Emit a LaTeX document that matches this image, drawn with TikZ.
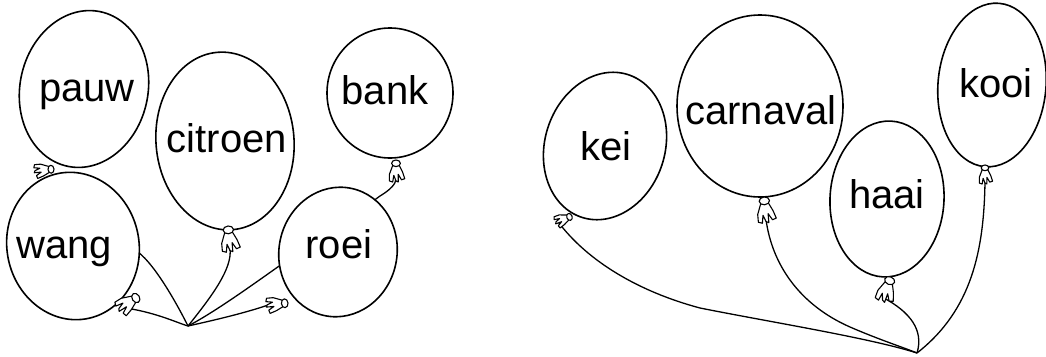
\documentclass[tikz,border=0pt]{standalone}
\usepackage{fontspec}
\setmainfont{Liberation Sans}
\usetikzlibrary{shapes.geometric}
\pgfdeclarelayer{bg}
\pgfsetlayers{bg,main}
\begin{document}
\begin{tikzpicture}[x=1pt,y=-1pt, line cap=round, line join=round,
  balloon/.style={draw, fill=white, ellipse, inner sep=0pt, line width=1.6pt},
  word/.style={font=\fontsize{40}{48}\selectfont, inner sep=0pt, anchor=base},
  strng/.style={draw, line width=1.3pt},
  knot/.pic={
    \draw[fill=white, line width=1.1pt] (-3,5) -- (-6,13) -- (-6,19) -- (-3,20) -- (-2,14) -- (0,19) -- (2,20) -- (2,13) -- (5,18) -- (8,17) -- (6,11) -- (3,5) -- cycle;
    \draw[fill=white, line width=1.1pt] (0,3) ellipse [x radius=4pt, y radius=3pt];
    \coordinate (-end) at (0,17);
  }]
\useasboundingbox (0,0) rectangle (1046,356);

% balloons
\node[balloon, minimum width=128pt, minimum height=158pt, rotate=-12] (bpauw) at (84,89) {};
\node[balloon, minimum width=132pt, minimum height=148pt, rotate=12] (bwang) at (73,246) {};
\node[balloon, minimum width=138pt, minimum height=178pt, rotate=5] (bcit) at (225,141) {};
\node[balloon, minimum width=126pt, minimum height=130pt] (bbank) at (390,93) {};
\node[balloon, minimum width=118pt, minimum height=130pt, rotate=-12] (broei) at (338,252) {};
\node[balloon, minimum width=120pt, minimum height=150pt, rotate=-18] (bkei) at (605,146) {};
\node[balloon, minimum width=166pt, minimum height=182pt] (bcar) at (760,106) {};
\node[balloon, minimum width=114pt, minimum height=156pt, rotate=-3] (bhaai) at (887,199) {};
\node[balloon, minimum width=108pt, minimum height=164pt, rotate=-5] (bkooi) at (992,85) {};

% words
\node[word] (tpauw) at (87,101) {pauw};
\node[word] (twang) at (64,258) {wang};
\node[word] (tcit) at (227,152) {citroen};
\node[word] (tbank) at (385,104) {bank};
\node[word] (troei) at (339,258) {roei};
\node[word] (tkei) at (606,160) {kei};
\node[word] (tcar) at (761,124) {carnaval};
\node[word] (thaai) at (887,208) {haai};
\node[word] (tkooi) at (996,97) {kooi};

% knots
\pic[rotate=-85, scale=1.0] (kpauw) at (54,169) {knot};
\pic[rotate=-58, scale=1.25] (kwang) at (139,296) {knot};
\pic[rotate=5, scale=1.3] (kcit) at (228,226) {knot};
\pic[scale=1.1] (kbank) at (396,160) {knot};
\pic[rotate=-85, scale=1.1] (kroei) at (288,303) {knot};
\pic[rotate=-70, scale=.9] (kkei) at (572,216) {knot};
\pic[rotate=5, scale=1.3] (kcar) at (764,197) {knot};
\pic[rotate=-20, scale=1.3] (khaai) at (891,277) {knot};
\pic[scale=.95] (kkooi) at (985,165) {knot};

% meeting points and hidden string points
\coordinate (meetL) at (188,326);
\coordinate (meetR) at (917,353);
\coordinate (pauwhide) at (70,190);
\coordinate (bankhide) at (320,240);

\begin{pgfonlayer}{bg}
\draw[strng] (pauwhide) -- (135,250) .. controls (152,260) and (175,300) .. (meetL);
\draw[strng] (kwang-end) .. controls (155,312) and (175,322) .. (meetL);
\draw[strng] (kcit-end) .. controls (233,268) and (212,296) .. (meetL);
\draw[strng] (kbank-end) .. controls (396,184) and (390,190) .. (380,196) -- (bankhide) -- (282,264) .. controls (255,283) and (215,312) .. (meetL);
\draw[strng] (kroei-end) .. controls (245,313) and (215,320) .. (meetL);
\draw[strng] (kkei-end) .. controls (588,262) and (640,292) .. (700,308) .. controls (770,322) and (870,338) .. (meetR);
\draw[strng] (kcar-end) .. controls (772,265) and (800,305) .. (850,327) .. controls (880,340) and (905,348) .. (meetR);
\draw[strng] (khaai-end) .. controls (910,312) and (924,330) .. (meetR);
\draw[strng] (kkooi-end) .. controls (984,250) and (972,310) .. (meetR);
\end{pgfonlayer}
\end{tikzpicture}
\end{document}
